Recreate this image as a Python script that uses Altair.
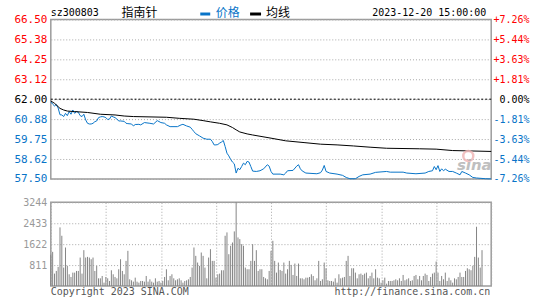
import altair as alt
import pandas as pd

# ---------------- data ----------------
stock_code = "sz300803"
stock_name = "指南针"
timestamp = "2023-12-20 15:00:00"
legend_price = "价格"
legend_avg = "均线"
footer_left = "Copyright 2023 SINA.COM"
footer_right = "http://finance.sina.com.cn"
prev_close = 62.00

price_minutes = [0, 1, 2, 3, 4, 5, 6, 7, 8, 9, 10, 11, 12, 13, 14, 15, 16, 17, 18, 19,
                 20, 21, 22, 23, 24, 25, 26, 27, 28, 29, 30, 31, 32, 33, 34, 35, 36, 37, 38, 40,
                 41, 42, 44, 45, 46, 48, 49, 51, 54, 56, 58, 60, 62, 63, 65, 69, 71, 72, 74, 76,
                 77, 78, 79, 81, 83, 85, 87, 88, 89, 90, 91, 92, 93, 94, 95, 96, 97, 98, 99, 100,
                 101, 102, 103, 104, 105, 106, 107, 108, 109, 110, 112, 114, 116, 118, 119, 120, 121, 125, 127, 128,
                 129, 132, 134, 135, 136, 137, 139, 145, 147, 148, 149, 150, 152, 156, 159, 161, 163, 166, 168, 170,
                 174, 177, 183, 185, 192, 194, 199, 204, 206, 208, 209, 210, 211, 212, 213, 214, 215, 217, 219, 221,
                 223, 224, 226, 228, 230, 232, 237, 240]
price_values = [61.85, 61.72, 61.62, 61.70, 61.50, 61.12, 61.11, 61.02, 61.20, 61.07, 61.30, 61.15, 61.39, 61.20, 61.30, 61.26, 61.07, 61.02, 61.15, 60.83,
                60.64, 60.60, 60.60, 60.64, 60.73, 60.77, 60.96, 61.00, 61.02, 61.00, 60.96, 60.85, 60.88, 61.05, 61.00, 60.96, 60.88, 60.77, 60.77, 60.75,
                60.64, 60.62, 60.60, 60.49, 60.57, 60.58, 60.55, 60.68, 60.64, 60.60, 60.79, 60.68, 60.64, 60.55, 60.45, 60.45, 60.55, 60.58, 60.49, 60.42,
                60.30, 60.17, 60.05, 59.93, 59.80, 59.74, 59.74, 59.61, 59.42, 59.42, 59.44, 59.52, 59.58, 59.67, 59.33, 58.95, 58.80, 58.60, 58.45, 58.35,
                57.83, 58.10, 58.02, 58.20, 58.39, 58.30, 58.49, 58.45, 58.20, 57.94, 57.92, 57.96, 58.07, 58.30, 58.22, 57.92, 57.77, 57.77, 57.73, 57.83,
                57.96, 57.98, 58.22, 58.30, 58.07, 57.95, 57.83, 57.79, 57.85, 58.00, 58.26, 57.92, 57.83, 57.77, 57.70, 57.58, 57.51, 57.51, 57.64, 57.73,
                57.77, 57.87, 57.92, 57.88, 57.88, 57.83, 57.79, 57.83, 57.92, 57.96, 58.20, 58.02, 58.25, 57.92, 58.07, 57.96, 58.05, 57.92, 57.92, 57.83,
                57.73, 57.92, 57.83, 57.73, 57.58, 57.55, 57.51, 57.50]

avg_minutes = [0, 2, 4, 5, 7, 9, 13, 20, 27, 35, 40, 45, 63, 70, 78, 83, 87, 92, 96, 99,
               101, 103, 107, 110, 120, 128, 138, 147, 156, 165, 174, 183, 201, 210, 219, 228, 240]
avg_values = [61.90, 61.77, 61.58, 61.48, 61.39, 61.33, 61.30, 61.25, 61.15, 61.11, 61.05, 61.02, 60.98, 60.92, 60.87, 60.79, 60.72, 60.64, 60.55, 60.40,
              60.27, 60.15, 60.04, 59.98, 59.80, 59.65, 59.55, 59.46, 59.42, 59.36, 59.29, 59.23, 59.20, 59.18, 59.10, 59.08, 59.05]

volume_values = [
    1207, 1324, 480, 584, 740, 2272, 1947, 714, 1493, 779,
    454, 350, 519, 519, 584, 584, 1103, 480, 1389, 1103,
    1129, 1103, 1038, 1103, 584, 779, 298, 298, 389, 130,
    350, 298, 195, 610, 454, 350, 298, 649, 1038, 584,
    454, 974, 1363, 260, 221, 169, 324, 169, 130, 195,
    195, 169, 389, 169, 260, 169, 130, 298, 169, 195,
    130, 195, 350, 649, 221, 389, 454, 298, 221, 260,
    298, 221, 130, 195, 221, 260, 350, 714, 1493, 1168,
    909, 779, 1298, 1168, 714, 298, 1103, 1428, 974, 974,
    324, 454, 480, 610, 610, 1947, 2077, 1233, 1558, 1687,
    2116, 3244, 1882, 1817, 1622, 1558, 714, 649, 649, 974,
    1622, 974, 1389, 584, 649, 649, 350, 298, 260, 584,
    1363, 1752, 974, 519, 909,
    623, 584, 909, 480, 649, 974, 818, 428, 870, 389,
    870, 298, 298, 260, 324, 324, 350, 454, 389, 221,
    298, 974, 195, 260, 909, 688, 221, 195, 195, 169,
    298, 130, 454, 298, 324, 350, 974, 1168, 389, 688,
    688, 519, 298, 454, 480, 428, 480, 519, 298, 389,
    519, 298, 649, 324, 298, 130, 221, 324, 91, 195,
    195, 195, 221, 260, 221, 298, 195, 428, 221, 260,
    298, 195, 221, 389, 428, 260, 389, 221, 389, 480,
    428, 195, 350, 480, 519, 948, 519, 195, 389, 260,
    519, 195, 324, 221, 130, 298, 260, 350, 519, 350,
    350, 584, 688, 649, 610, 779, 1129, 2297, 1103, 714,
    1389, 0, 0, 0, 0, 0]

price_ticks = [57.50, 58.62, 59.75, 60.88, 62.00, 63.12, 64.25, 65.38, 66.50]
pct_labels = ["-7.26%", "-5.44%", "-3.63%", "-1.81%", "0.00%", "+1.81%", "+3.63%", "+5.44%", "+7.26%"]
volume_ticks = [811, 1622, 2433, 3244]
time_ticks = [0, 30, 60, 90, 120, 150, 180, 210, 240]
time_labels = ["09:30", "10:00", "10:30", "11:00", "11:30", "13:30", "14:00", "14:30", "15:00"]

# ---------------- styling ----------------
MONO = "DejaVu Sans Mono"
CJK = "Noto Sans CJK SC"
BLUE = "#0874C8"
RED = "#FF0000"
GRID = "#A8A8A8"
FRAME = "#9C9C9C"
VOLC = "#858585"
W, H1, H2, GAP = 442, 160, 84, 23.5

df_price = pd.DataFrame({"minute": price_minutes, "price": price_values})
df_avg = pd.DataFrame({"minute": avg_minutes, "price": avg_values})
df_vol = pd.DataFrame({"minute": list(range(len(volume_values))), "vol": volume_values})
one = pd.DataFrame({"a": [0]})

time_expr = "".join(f"datum.value == {t} ? '{l}' : " for t, l in zip(time_ticks, time_labels)) + "''"
pct_expr = "".join(f"abs(datum.value - {v}) < 0.01 ? '{l}' : " for v, l in zip(price_ticks, pct_labels)) + "''"
label_color = {
    "condition": [
        {"test": f"datum.value > {prev_close + 0.01}", "value": RED},
        {"test": f"datum.value < {prev_close - 0.01}", "value": BLUE},
    ],
    "value": "#000000",
}

xscale = alt.Scale(domain=[0, 240], nice=False, zero=False)
pscale = alt.Scale(domain=[price_ticks[0], price_ticks[-1]], nice=False, zero=False)
vscale = alt.Scale(domain=[0, volume_ticks[-1]], nice=False, zero=True)

x_axis_top = alt.Axis(values=time_ticks, labelExpr=time_expr, title=None, domain=False,
                      ticks=False, tickSize=0, labelColor=BLUE, labelFont=MONO, labelFontSize=10,
                      labelPadding=5, labelFlush=False, labelOverlap=False,
                      grid=True, gridColor=GRID, gridDash=[1, 2], gridWidth=1)
y_axis_left = alt.Axis(orient="left", values=price_ticks, labelExpr="format(datum.value, '.2f')",
                       title=None, domain=False, ticks=False, tickSize=0, labelColor=label_color,
                       labelFont=MONO, labelFontSize=11, labelPadding=4, labelOverlap=False,
                       grid=True, gridColor=GRID, gridDash=[1, 2], gridWidth=1)
y_axis_right = alt.Axis(orient="right", values=price_ticks, labelExpr=pct_expr, title=None,
                        domain=False, ticks=False, tickSize=0, labelColor=label_color,
                        labelFont=MONO, labelFontSize=10, labelAlign="right", labelPadding=38,
                        labelOverlap=False, grid=False)

zero_rule = alt.Chart(pd.DataFrame({"price": [prev_close]})).mark_rule(
    color="#000", strokeDash=[2, 2], strokeWidth=1).encode(
    y=alt.Y("price:Q", scale=pscale, axis=None))

price_line = alt.Chart(df_price).mark_line(color=BLUE, strokeWidth=1).encode(
    x=alt.X("minute:Q", scale=xscale, axis=x_axis_top),
    y=alt.Y("price:Q", scale=pscale, axis=y_axis_left))

avg_line = alt.Chart(df_avg).mark_line(color="#000000", strokeWidth=1).encode(
    x=alt.X("minute:Q", scale=xscale, axis=None),
    y=alt.Y("price:Q", scale=pscale, axis=None))

right_axis = alt.Chart(df_price).mark_line(opacity=0).encode(
    x=alt.X("minute:Q", scale=xscale, axis=None),
    y=alt.Y("price:Q", scale=pscale, axis=y_axis_right))


def label(text, x, y, font=MONO, size=10, color="#000", align="left", **kw):
    return alt.Chart(pd.DataFrame({"t": [text]})).mark_text(
        align=align, baseline="alphabetic", font=font, fontSize=size, color=color, **kw).encode(
        x=alt.value(x), y=alt.value(y), text="t:N")


def swatch(x1, x2, y, color):
    return alt.Chart(one).mark_rule(color=color, strokeWidth=3).encode(
        x=alt.value(x1), x2=alt.value(x2), y=alt.value(y))


def bound(y1, y2):
    return alt.Chart(one).mark_rect(opacity=0).encode(
        x=alt.value(-50), x2=alt.value(495), y=alt.value(y1), y2=alt.value(y2))


watermark_logo = alt.Chart(one).mark_point(shape="circle", filled=False, strokeWidth=2.5,
                                           color="#F0B4B4", size=100, opacity=0.8).encode(
    x=alt.value(419), y=alt.value(137))

top = alt.layer(
    zero_rule, price_line, avg_line, right_axis,
    label(stock_code, 0, -3),
    label(stock_name, 71, -2, font=CJK, size=12),
    swatch(150, 160, -5.5, BLUE),
    label(legend_price, 165.5, -2, font=CJK, size=12, color=BLUE),
    swatch(200, 211, -5.5, "#000"),
    label(legend_avg, 216, -2, font=CJK, size=12),
    label(timestamp, 437, -3, align="right"),
    watermark_logo,
    label("sina", 425, 151.5, font="DejaVu Sans", size=15, color="#B4B4B4",
          align="center", fontWeight="bold", fontStyle="italic", opacity=0.85),
    bound(-17.5, -16),
).resolve_axis(y="independent").properties(width=W, height=H1)

x_axis_bottom = alt.Axis(values=time_ticks, labels=False, title=None, domain=False, ticks=False,
                         tickSize=0, grid=True, gridColor=GRID, gridDash=[1, 2], gridWidth=1)
y_axis_vol = alt.Axis(values=volume_ticks, format="d", title=None, domain=False, ticks=False,
                      tickSize=0, labelColor="#999999", labelFont=MONO, labelFontSize=10,
                      labelPadding=4, labelOverlap=False,
                      grid=True, gridColor=GRID, gridDash=[1, 2], gridWidth=1)

bars = alt.Chart(df_vol).mark_rule(color=VOLC, strokeWidth=1).encode(
    x=alt.X("minute:Q", scale=xscale, axis=x_axis_bottom),
    y=alt.Y("vol:Q", scale=vscale, axis=y_axis_vol),
    y2=alt.datum(0))

bottom = alt.layer(
    bars,
    label(footer_left, 0, 93.5, color="#555555"),
    label(footer_right, 441, 93.5, color="#555555", align="right"),
    bound(97, 99),
).properties(width=W, height=H2)

chart = alt.vconcat(top, bottom, spacing=GAP, bounds="flush").properties(
    padding=0, background="white"
).configure_view(stroke=FRAME, strokeWidth=1.5)

chart.save("out.html", embed_options={"renderer": "svg", "actions": False})
